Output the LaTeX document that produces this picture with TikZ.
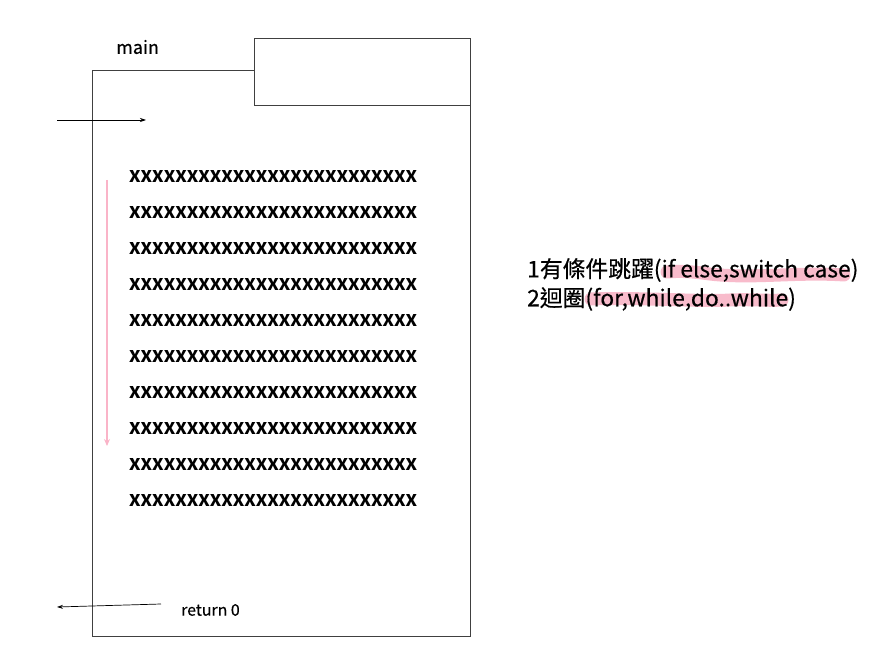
\documentclass[tikz,border=0pt]{standalone}
\usepackage{fontspec}
\setmainfont{Noto Sans CJK TC}
\newfontfamily\medfont[FakeBold=0.5]{Noto Sans CJK TC}
\usetikzlibrary{arrows.meta}
\definecolor{hlpink}{RGB}{246,170,190}
\definecolor{arrpink}{RGB}{250,180,200}
\newcommand{\xrow}{\resizebox{288pt}{12pt}{\bfseries XXXXXXXXXXXXXXXXXXXXXXXXX}}
\begin{document}
\begin{tikzpicture}[x=1pt,y=-1pt,
  frame/.style={draw=black!75,line width=0.9pt},
  flow/.style={-{Stealth[length=6pt,width=4pt]},line width=0.7pt},
  xline/.style={anchor=west,inner sep=0pt},
  hl/.style={draw=hlpink,line width=13pt,line cap=round,opacity=0.8}]
\useasboundingbox (0,0) rectangle (883,655);
% frame
\draw[frame] (254,70) -- (92,70) -- (92,636) -- (470,636) -- (470,105);
\node[frame,draw,minimum width=216pt,minimum height=67pt,anchor=north west,inner sep=0pt] (hdr) at (254,38) {};
\node[anchor=west,inner sep=0pt,font=\medfont\fontsize{18}{20}\selectfont] (main) at (116,47) {main};
% arrows
\coordinate (inS) at (57,120);
\coordinate (inE) at (146,120);
\draw[flow] (inS) -- (inE);
\coordinate (retS) at (161,604);
\coordinate (retE) at (57,607);
\draw[flow] (retS) -- (retE);
\node[anchor=west,inner sep=0pt,font=\medfont\fontsize{15.9}{18}\selectfont] (ret) at (181,610) {return 0};
% pink flow arrow
\coordinate (pS) at (107,180);
\coordinate (pE) at (107,446);
\draw[draw=arrpink,line width=1.2pt,-{Stealth[length=7pt,width=6pt]},color=arrpink] (pS) -- (pE);
% X lines
\foreach \i in {0,...,9} {
  \node[xline] (x\i) at (129,{176+36*\i}) {\xrow};
}
% highlights
\draw[hl] (667,272) .. controls (690,270) and (705,274) .. (720,275) .. controls (760,278) and (800,272) .. (844,275);
\draw[hl] (591,299) .. controls (640,297) and (700,302) .. (730,300) .. controls (750,299) and (770,301) .. (782,300);
% right text
\node[anchor=west,inner sep=0pt,font=\medfont\fontsize{22.8}{26}\selectfont] (t1) at (527,270) {1有條件跳躍(if else,switch case)};
\node[anchor=west,inner sep=0pt,font=\medfont\fontsize{22.8}{26}\selectfont] (t2) at (527,299) {2迴圈(for,while,do..while)};
\end{tikzpicture}
\end{document}
